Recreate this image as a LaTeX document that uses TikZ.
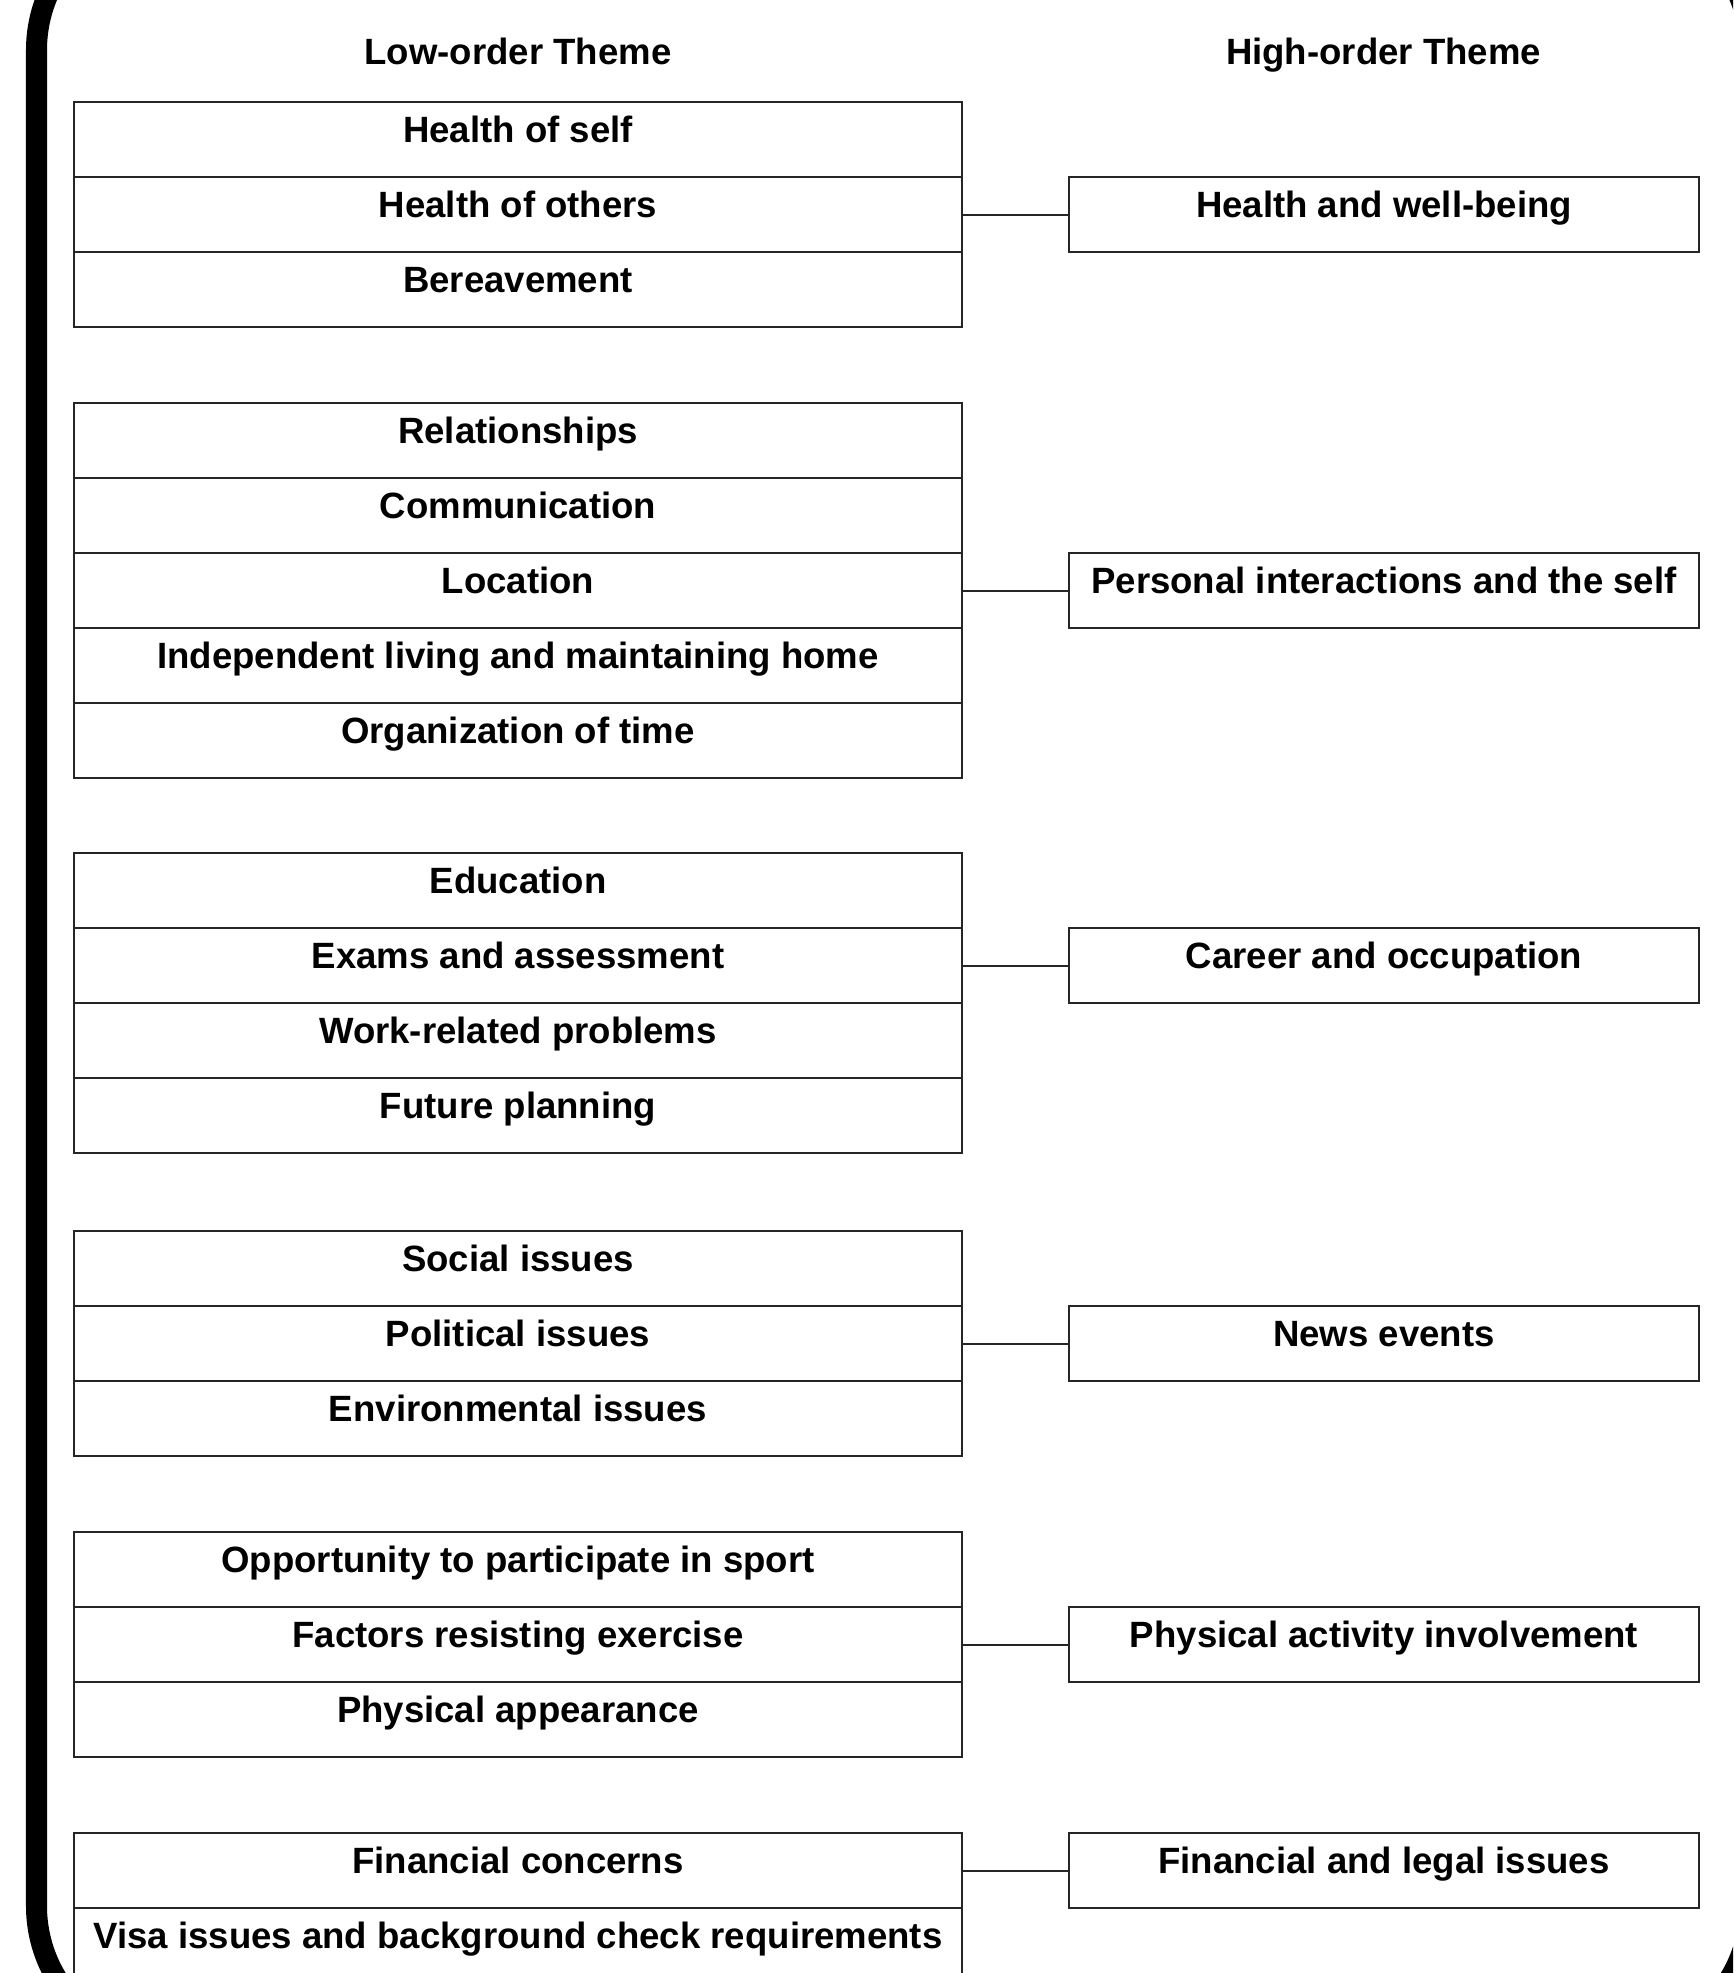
\documentclass[tikz,border=0pt]{standalone}
\usepackage{fontspec}
\setmainfont{Liberation Sans}
\usetikzlibrary{positioning}

\begin{document}
\begin{tikzpicture}[x=0.01cm, y=-0.01cm,
  lowbox/.style={draw=black!85, line width=0.02cm, outer sep=0pt, inner sep=0pt,
    minimum width=8.88cm, text height=0.40cm, text depth=0.35cm,
    font=\bfseries\fontsize{10.4}{12}\selectfont},
  highbox/.style={lowbox, minimum width=6.29cm},
  head/.style={anchor=base, inner sep=0pt, font=\bfseries\fontsize{10.4}{12}\selectfont},
  link/.style={draw=black!85, line width=0.02cm}]
\useasboundingbox (0,0) rectangle (1733,1973);
\clip (0,0) rectangle (1733,1973);
\draw[line width=0.21cm, rounded corners=1.4cm] (36.5,-90) rectangle (1750,2046);

\node[head] (lowhead) at (518,65) {Low-order Theme};
\node[head] (highhead) at (1383.5,65) {High-order Theme};

% health
\node[lowbox, anchor=north] (self) at (518,102) {Health of self};
\node[lowbox, below=0pt of self] (others) {Health of others};
\node[lowbox, below=0pt of others] (bereave) {Bereavement};
\node[highbox, right=1.07cm of others] (health) {Health and well-being};

% personal
\node[lowbox, anchor=north] (relation) at (518,403) {Relationships};
\node[lowbox, below=0pt of relation] (comm) {Communication};
\node[lowbox, below=0pt of comm] (location) {Location};
\node[lowbox, below=0pt of location] (living) {Independent living and maintaining home};
\node[lowbox, below=0pt of living] (time) {Organization of time};
\node[highbox, right=1.07cm of location] (personal) {Personal interactions and the self};

% career
\node[lowbox, anchor=north] (educ) at (518,853) {Education};
\node[lowbox, below=0pt of educ] (exams) {Exams and assessment};
\node[lowbox, below=0pt of exams] (work) {Work-related problems};
\node[lowbox, below=0pt of work] (future) {Future planning};
\node[highbox, right=1.07cm of exams] (career) {Career and occupation};

% news
\node[lowbox, anchor=north] (social) at (518,1231) {Social issues};
\node[lowbox, below=0pt of social] (politic) {Political issues};
\node[lowbox, below=0pt of politic] (environ) {Environmental issues};
\node[highbox, right=1.07cm of politic] (news) {News events};

% physical activity
\node[lowbox, anchor=north] (sport) at (518,1532) {Opportunity to participate in sport};
\node[lowbox, below=0pt of sport] (resist) {Factors resisting exercise};
\node[lowbox, below=0pt of resist] (appear) {Physical appearance};
\node[highbox, right=1.07cm of resist] (physical) {Physical activity involvement};

% financial
\node[lowbox, anchor=north] (money) at (518,1833) {Financial concerns};
\node[lowbox, below=0pt of money] (visa) {Visa issues and background check requirements};
\node[highbox, right=1.07cm of money] (legal) {Financial and legal issues};

\draw[link] (others) -- (health);
\draw[link] (location) -- (personal);
\draw[link] (exams) -- (career);
\draw[link] (politic) -- (news);
\draw[link] (resist) -- (physical);
\draw[link] (money) -- (legal);
\end{tikzpicture}
\end{document}
